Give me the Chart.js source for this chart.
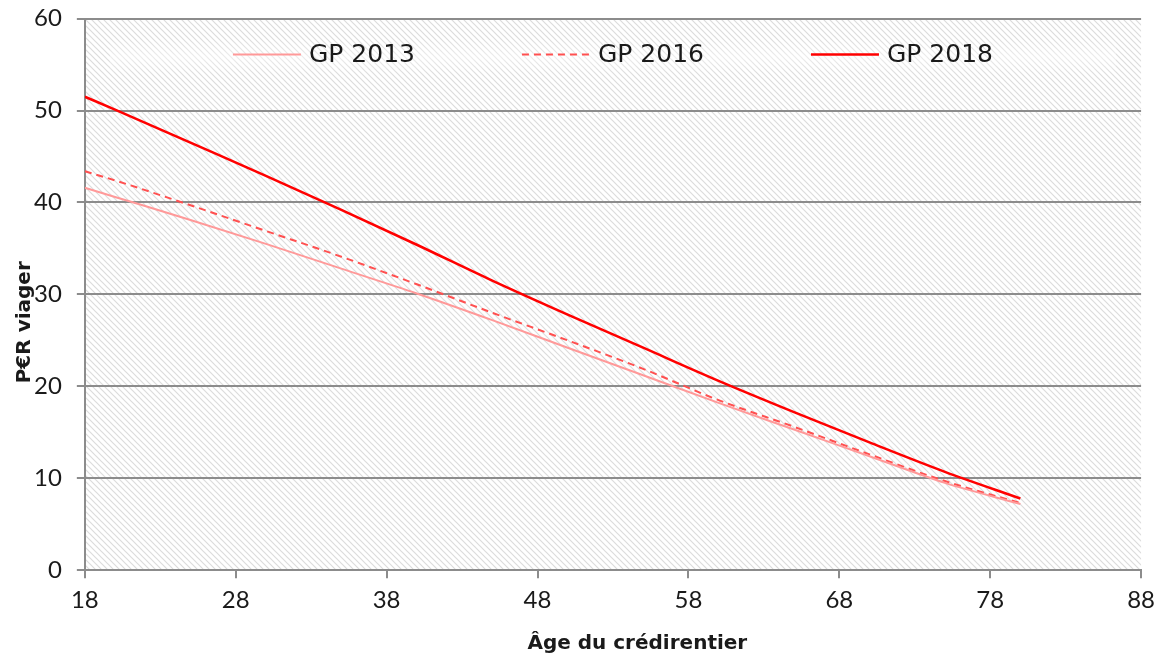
<!DOCTYPE html>
<html>
<head>
<meta charset="utf-8">
<title>P€R viager</title>
<script src="https://cdn.jsdelivr.net/npm/chart.js@4/dist/chart.umd.min.js"></script>
<style>
  html, body { margin: 0; padding: 0; background: #ffffff; }
  #wrap { width: 1163px; height: 655px; }
</style>
</head>
<body>
<div id="wrap"><canvas id="chart"></canvas></div>
<script>
// ages and values
const ages = [18, 20, 25, 30, 35, 40, 45, 50, 55, 60, 65, 70, 75, 80];
const gp2013 = [41.6, 40.6, 38.1, 35.5, 32.8, 30.1, 27.2, 24.2, 21.2, 18.2, 15.3, 12.4, 9.5, 7.2];
const gp2016 = [43.4, 42.4, 39.7, 36.9, 34.1, 31.1, 28.0, 25.0, 21.9, 18.5, 15.6, 12.6, 9.7, 7.3];
const gp2018 = [51.5, 50.1, 46.5, 42.9, 39.2, 35.4, 31.5, 27.8, 24.2, 20.6, 17.2, 13.9, 10.7, 7.8];
const seriesNames = ['GP 2013', 'GP 2016', 'GP 2018'];
const xTicks = [18, 28, 38, 48, 58, 68, 78, 88];
const yTicks = [0, 10, 20, 30, 40, 50, 60];

const FONT = 'Lato, "DejaVu Sans", sans-serif';
const TITLE_FONT = '"DejaVu Sans", sans-serif';
const AXIS_GREY = '#8c8c8c';
const NBSP = '\u00a0';

function toPoints(values) {
  return ages.map((a, i) => ({ x: a, y: values[i] }));
}

// diagonal hatch like the office chart fill
function makeHatch() {
  const c = document.createElement('canvas');
  c.width = 6;
  c.height = 6;
  const g = c.getContext('2d');
  g.fillStyle = '#ffffff';
  g.fillRect(0, 0, 6, 6);
  g.strokeStyle = '#dcdcdc';
  g.lineWidth = 1.2;
  g.beginPath();
  g.moveTo(-1, -1); g.lineTo(7, 7);
  g.moveTo(-7, -1); g.lineTo(1, 7);
  g.moveTo(5, -1); g.lineTo(13, 7);
  g.stroke();
  return g.createPattern(c, 'repeat');
}

const hatchBackground = {
  id: 'hatchBackground',
  beforeDraw(chart) {
    const { ctx, chartArea: a } = chart;
    ctx.save();
    ctx.fillStyle = makeHatch();
    ctx.fillRect(a.left, a.top, a.right - a.left, a.bottom - a.top);
    ctx.restore();
  }
};

// legend drawn inside the plot area, one row at the top
const innerLegend = {
  id: 'innerLegend',
  afterDatasetsDraw(chart) {
    const { ctx, chartArea: a } = chart;
    const lineW = 68, gapText = 8, gapItem = 107;
    const y = a.top + 36;
    ctx.save();
    ctx.font = '25px ' + TITLE_FONT;
    const items = chart.data.datasets.map(ds => ({ ds, w: ctx.measureText(ds.label).width }));
    let total = 0;
    items.forEach((it, i) => { total += lineW + gapText + it.w + (i < items.length - 1 ? gapItem : 0); });
    let x = (a.left + a.right) / 2 - total / 2;
    const band = ctx.createLinearGradient(0, a.top + 20, 0, a.top + 56);
    band.addColorStop(0, 'rgba(255,255,255,0)');
    band.addColorStop(0.5, 'rgba(255,255,255,0.45)');
    band.addColorStop(1, 'rgba(255,255,255,0)');
    ctx.fillStyle = band;
    ctx.fillRect(a.left + 25, a.top + 20, a.right - a.left - 50, 36);
    items.forEach(it => {
      ctx.strokeStyle = it.ds.borderColor;
      ctx.lineWidth = it.ds.borderWidth;
      ctx.setLineDash(it.ds.borderDash || []);
      ctx.beginPath();
      ctx.moveTo(x, y);
      ctx.lineTo(x + lineW, y);
      ctx.stroke();
      ctx.setLineDash([]);
      ctx.fillStyle = '#1a1a1a';
      ctx.textBaseline = 'middle';
      ctx.textAlign = 'left';
      ctx.fillText(it.ds.label, x + lineW + gapText, y + 1);
      x += lineW + gapText + it.w + gapItem;
    });
    ctx.restore();
  }
};

const ctx = document.getElementById('chart').getContext('2d');
new Chart(ctx, {
  type: 'line',
  data: {
    datasets: [
      {
        label: seriesNames[0],
        data: toPoints(gp2013),
        borderColor: '#ff9999',
        borderWidth: 2,
        pointRadius: 0,
        tension: 0.4,
        cubicInterpolationMode: 'monotone'
      },
      {
        label: seriesNames[1],
        data: toPoints(gp2016),
        borderColor: '#ff5050',
        borderWidth: 2,
        borderDash: [7, 5],
        pointRadius: 0,
        tension: 0.4,
        cubicInterpolationMode: 'monotone'
      },
      {
        label: seriesNames[2],
        data: toPoints(gp2018),
        borderColor: '#ff0000',
        borderWidth: 2.5,
        pointRadius: 0,
        tension: 0.4,
        cubicInterpolationMode: 'monotone'
      }
    ]
  },
  options: {
    responsive: true,
    maintainAspectRatio: false,
    animation: false,
    layout: { padding: { top: 0, right: 6, left: 13, bottom: -1 } },
    plugins: {
      legend: { display: false },
      tooltip: { enabled: false }
    },
    scales: {
      x: {
        type: 'linear',
        min: 18,
        max: 88,
        afterBuildTicks(axis) {
          axis.ticks = xTicks.map(v => ({ value: v }));
        },
        grid: {
          drawOnChartArea: false,
          drawTicks: true,
          tickLength: 8,
          color: AXIS_GREY,
          lineWidth: 2
        },
        border: { color: AXIS_GREY, width: 2 },
        ticks: {
          color: '#1a1a1a',
          font: { family: FONT, size: 24 },
          padding: 8,
          maxRotation: 0
        },
        title: {
          display: true,
          // the office title sits a little right of the plot centre
          text: NBSP.repeat(7) + 'Âge du crédirentier',
          color: '#1a1a1a',
          font: { family: TITLE_FONT, size: 20, weight: 'bold' },
          padding: { top: 9, bottom: 0 }
        }
      },
      y: {
        min: 0,
        max: 60,
        afterBuildTicks(axis) {
          axis.ticks = yTicks.map(v => ({ value: v }));
        },
        grid: {
          drawOnChartArea: true,
          drawTicks: true,
          tickLength: 8,
          color: AXIS_GREY,
          lineWidth: 2
        },
        border: { color: AXIS_GREY, width: 2 },
        ticks: {
          color: '#1a1a1a',
          // small line height so the plot can start close to the top edge
          font: { family: FONT, size: 24, lineHeight: 0.3 },
          padding: 15
        },
        title: {
          display: true,
          // and this one sits below the plot centre
          text: 'P€R viager' + NBSP.repeat(8),
          color: '#1a1a1a',
          font: { family: TITLE_FONT, size: 20, weight: 'bold' },
          padding: { top: 0, bottom: -18 }
        }
      }
    }
  },
  plugins: [hatchBackground, innerLegend]
});
</script>
</body>
</html>
